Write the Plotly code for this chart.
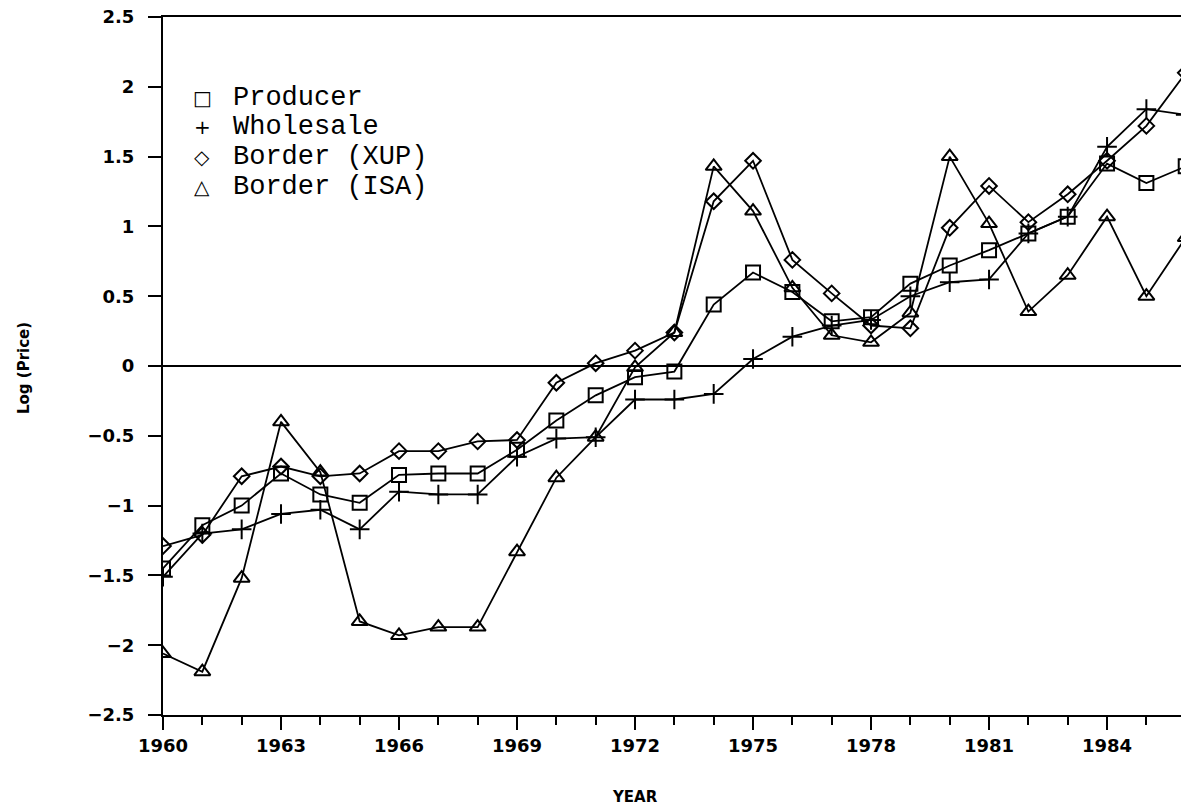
import plotly.graph_objects as go

years = list(range(1960, 1987))

producer = [-1.45, -1.14, -1.00, -0.77, -0.92, -0.98, -0.78, -0.77, -0.77, -0.60,
            -0.39, -0.21, -0.08, -0.04, 0.44, 0.67, 0.53, 0.32, 0.35, 0.59,
            0.72, 0.83, 0.95, 1.07, 1.45, 1.31, 1.43]
wholesale = [-1.51, -1.20, -1.17, -1.06, -1.03, -1.17, -0.90, -0.92, -0.92, -0.65,
             -0.52, -0.51, -0.24, -0.24, -0.20, 0.05, 0.21, 0.29, 0.33, 0.50,
             0.60, 0.62, 0.95, 1.07, 1.57, 1.84, 1.80]
border_xup = [-1.29, -1.21, -0.79, -0.72, -0.79, -0.77, -0.61, -0.61, -0.54, -0.53,
              -0.12, 0.02, 0.11, 0.24, 1.18, 1.47, 0.76, 0.52, 0.29, 0.27,
              0.99, 1.29, 1.03, 1.23, 1.47, 1.72, 2.10]
border_isa = [-2.06, -2.19, -1.52, -0.40, -0.76, -1.83, -1.93, -1.87, -1.87, -1.33,
              -0.80, -0.51, -0.01, 0.24, 1.43, 1.11, 0.56, 0.22, 0.17, 0.38,
              1.50, 1.02, 0.39, 0.65, 1.07, 0.50, 0.92]

series_names = ["Producer", "Wholesale", "Border (XUP)", "Border (ISA)"]
legend_glyphs = ["□", "+", "◇", "△"]
y_ticks = [2.5, 2, 1.5, 1, 0.5, 0, -0.5, -1, -1.5, -2, -2.5]
y_tick_text = ["2.5", "2", "1.5", "1", "0.5", "0", "\u22120.5", "\u22121", "\u22121.5", "\u22122", "\u22122.5"]

symbols = ["square-open", "cross-thin-open", "diamond-open", "triangle-up-open"]
sizes = [14, 14, 12, 14]
data = [producer, wholesale, border_xup, border_isa]

fig = go.Figure()
for name, vals, sym, sz in zip(series_names, data, symbols, sizes):
    fig.add_trace(go.Scatter(
        x=years, y=vals, name=name, mode="lines+markers",
        line=dict(color="black", width=1.8),
        marker=dict(symbol=sym, size=sz, color="black",
                    line=dict(color="black", width=2)),
        showlegend=False,
    ))

tickfont = dict(family="DejaVu Sans", size=18, color="black", weight="bold")

L, T, B = 163, 17, 92
W, H = 1181, 807
plot_w = W - L
plot_h = H - T - B

fig.update_layout(
    width=W, height=H,
    margin=dict(l=L, r=0, t=T, b=B, autoexpand=False),
    paper_bgcolor="white", plot_bgcolor="white",
    showlegend=False,
    xaxis=dict(
        range=[1960, 1985.88], tick0=1960, dtick=3,
        ticks="outside", ticklen=13, tickwidth=2, tickcolor="black",
        minor=dict(dtick=1, ticks="outside", ticklen=8, tickwidth=1.5, tickcolor="black"),
        showline=True, linecolor="black", linewidth=2, mirror=True,
        showgrid=False, zeroline=False, tickfont=tickfont,
    ),
    yaxis=dict(
        range=[-2.5, 2.5], tickvals=y_ticks, ticktext=y_tick_text,
        ticks="outside", ticklen=13, tickwidth=2, tickcolor="black",
        ticklabelstandoff=10,
        showline=True, linecolor="black", linewidth=2,
        showgrid=False, zeroline=True, zerolinecolor="black", zerolinewidth=1.8,
        tickfont=tickfont,
    ),
)


def px(xp, yp):
    return (xp - L) / plot_w, 1 - (yp - T) / plot_h


annotations = []
for i, (g, n) in enumerate(zip(legend_glyphs, series_names)):
    yrow = 98 + 29.5 * i
    gx, gy = px(202, yrow)
    annotations.append(dict(
        x=gx, y=gy, xref="paper", yref="paper", text=g,
        showarrow=False, xanchor="center", yanchor="middle",
        font=dict(family="DejaVu Sans", size=20, color="black"),
    ))
    tx, ty = px(231, yrow)
    annotations.append(dict(
        x=tx, y=ty, xref="paper", yref="paper", text=n,
        showarrow=False, xanchor="left", yanchor="middle",
        font=dict(family="Liberation Mono", size=27, color="black"),
    ))

yx, yy = px(635, 797)
annotations.append(dict(
    x=yx, y=yy, xref="paper", yref="paper",
    text="YEAR", showarrow=False, xanchor="center", yanchor="middle",
    font=dict(family="DejaVu Sans", size=15, color="black", weight="bold"),
))
lx, ly = px(24, 368)
annotations.append(dict(
    x=lx, y=ly, xref="paper", yref="paper",
    text="Log (Price)", showarrow=False, xanchor="center", yanchor="middle",
    textangle=-90,
    font=dict(family="DejaVu Sans", size=15, color="black", weight="bold"),
))
fig.update_layout(annotations=annotations)

fig.write_html(
    "out.html",
    config={"displayModeBar": False},
    post_script="document.body.style.margin='0';document.body.style.overflow='hidden';",
)
